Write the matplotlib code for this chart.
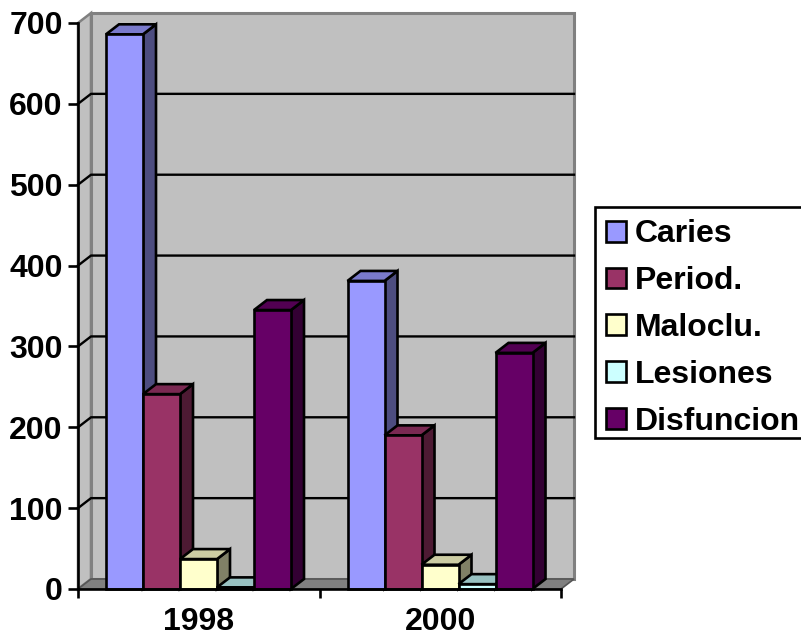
import matplotlib
matplotlib.use("Agg")
import matplotlib.pyplot as plt
from matplotlib.patches import Patch, Rectangle

years = ["1998", "2000"]
series = ["Caries", "Period.", "Maloclu.", "Lesiones", "Disfuncion"]
caries = [686, 381]
period = [241, 190]
maloclu = [37, 30]
lesiones = [2, 6]
disfuncion = [345, 292]
values = [caries, period, maloclu, lesiones, disfuncion]
front = ["#9999FF", "#993366", "#FFFFCC", "#CCFFFF", "#660066"]
top = ["#7A7ACC", "#7A2952", "#CCCCA3", "#99C2C2", "#520052"]
side = ["#4D4D80", "#4D1A33", "#808066", "#668080", "#330033"]
yticks = [0, 100, 200, 300, 400, 500, 600, 700]

W, H = 801, 639
plt.rcParams["font.family"] = ["Liberation Sans", "DejaVu Sans"]
plt.rcParams["font.weight"] = "bold"
fig = plt.figure(figsize=(W / 100, H / 100), dpi=100, facecolor="white")
ax = fig.add_axes([78 / W, (H - 589) / H, (561 - 78) / W, (589 - 23) / H])
ax.set_xlim(0, 2)
ax.set_ylim(0, 700)
ax.patch.set_visible(False)
for s in ("top", "right"):
    ax.spines[s].set_visible(False)
for s in ("left", "bottom"):
    ax.spines[s].set_linewidth(1.9)
    ax.spines[s].set_zorder(20)

# depth offsets of the pseudo-3D box (13 px across, 10 px up)
dx = 2 * 13 / 483
dy = 700 * 10 / 566
ymax = yticks[-1]
wall = "#C0C0C0"
edge = "#808080"
LW = 1.9

ax.fill([0, dx, dx, 0], [0, dy, ymax + dy, ymax], facecolor=wall, edgecolor=edge, lw=1.8, clip_on=False, zorder=1)
ax.fill([dx, 2 + dx, 2 + dx, dx], [dy, dy, ymax + dy, ymax + dy], facecolor=wall, edgecolor=edge, lw=2.2, clip_on=False, zorder=1)
ax.fill([0, 2, 2 + dx, dx], [0, 0, dy, dy], facecolor=edge, edgecolor="#555555", lw=1.2, clip_on=False, zorder=2)
for t in yticks[1:-1]:
    ax.plot([0, dx, 2 + dx], [t, t + dy, t + dy], color="black", lw=1.7, clip_on=False, zorder=3)

bw = 37 / 241.5
start = 28 / 241.5
z = 5
for g in range(len(years)):
    for i in range(len(series)):
        v = values[i][g]
        x0 = g + start + i * bw
        x1 = x0 + bw
        kw = dict(edgecolor="black", lw=LW, clip_on=False, joinstyle="miter")
        ax.fill([x1, x1 + dx, x1 + dx, x1], [0, dy, v + dy, v], facecolor=side[i], zorder=z, **kw)
        ax.fill([x0, x1, x1 + dx, x0 + dx], [v, v, v + dy, v + dy], facecolor=top[i], zorder=z, **kw)
        ax.bar(x0, v, width=bw, align="edge", color=front[i], edgecolor="black", lw=LW, clip_on=False, zorder=z + 0.5)
        z += 1

ax.set_yticks(yticks)
ax.tick_params(axis="y", length=7.5, width=1.9, labelsize=23, pad=3.5)
ax.set_xticks([0, 1, 2])
ax.set_xticklabels([])
ax.set_xticks([0.5, 1.5], labels=years, minor=True)
ax.tick_params(axis="x", which="major", length=6.5, width=1.9)
ax.tick_params(axis="x", which="minor", length=0, labelsize=23, pad=13)

# legend box runs off the right edge of the picture, as in the reference
fig.add_artist(Rectangle((595 / W, (H - 438) / H), 215 / W, 231 / H, transform=fig.transFigure,
                         facecolor="white", edgecolor="black", lw=1.9, clip_on=True))
handles = [Patch(facecolor=c, edgecolor="black", lw=LW, label=n) for c, n in zip(front, series)]
leg = fig.legend(
    handles=handles, loc="upper left",
    bbox_to_anchor=(606 / W, (H - 219.5) / H), bbox_transform=fig.transFigure,
    fontsize=23, frameon=False, borderaxespad=0, borderpad=0,
    handlelength=0.62, handleheight=0.62, handletextpad=0.28, labelspacing=0.525,
)

fig.savefig("out.png", dpi=100)
